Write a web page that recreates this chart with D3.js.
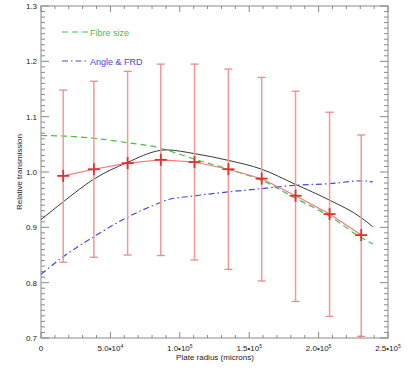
<!DOCTYPE html>
<html>
<head>
<meta charset="UTF-8">
<script src="https://cdn.jsdelivr.net/npm/d3@7"></script>
<style>
body{
    margin:0;
    background:#fff;
}
text{
    font-family: "Liberation Sans", Helvetica, Arial, sans-serif;
}
</style>
</head>
<body>
<script>
var width = 409;
var height = 381;

// measured points (plate radius in microns)
var radius = [16000, 38100, 62400, 86300, 110600, 135000, 159000, 183400, 207900, 230700]
var trans = [0.993, 1.005, 1.016, 1.022, 1.018, 1.005, 0.988, 0.957, 0.924, 0.886]
var errHi = [1.148, 1.164, 1.182, 1.195, 1.195, 1.186, 1.171, 1.146, 1.108, 1.067]
var errLo = [0.837, 0.846, 0.850, 0.849, 0.841, 0.824, 0.803, 0.766, 0.739, 0.703]

// model curves, sampled off the plot
var curveX = [0, 16000, 38000, 62000, 86000, 90000, 111000, 135000, 159000, 183000, 208000, 231000, 239000]
var totalY = [0.914, 0.946, 0.987, 1.017, 1.039, 1.040, 1.033, 1.021, 1.005, 0.978, 0.949, 0.917, 0.901]
var fibreY = [1.066, 1.065, 1.061, 1.053, 1.043, 1.040, 1.023, 1.005, 0.985, 0.953, 0.920, 0.881, 0.870]
var angleY = [0.815, 0.847, 0.883, 0.918, 0.945, 0.949, 0.957, 0.964, 0.970, 0.976, 0.979, 0.984, 0.982]

var xTicks = [0, 50000, 100000, 150000, 200000, 250000]
var xTickLabels = [["0", ""], ["5.0\u202210", "4"], ["1.0\u202210", "5"], ["1.5\u202210", "5"], ["2.0\u202210", "5"], ["2.5\u202210", "5"]]
var yTicks = [0.7, 0.8, 0.9, 1.0, 1.1, 1.2, 1.3]
var yTickLabels = ["0.7", "0.8", "0.9", "1.0", "1.1", "1.2", "1.3"]

var legendNames = ["Fibre size", "Angle & FRD"]

var svg = d3.select('body')
    .append('svg')
    .attr('width', width)
    .attr('height', height)

var x = d3.scaleLinear().domain([0, 250000]).range([41, 388])
var y = d3.scaleLinear().domain([0.7, 1.3]).range([338, 6])

var axisCol = "#8a8a8a"

// frame
svg.append("rect")
    .attr("x", x(0))
    .attr("y", y(1.3))
    .attr("width", x(250000) - x(0))
    .attr("height", y(0.7) - y(1.3))
    .attr("fill", "none")
    .attr("stroke", axisCol)
    .attr("stroke-width", 1)

// ticks, drawn inward on all four sides
var xMinor = d3.range(0, 250001, 10000)
xMinor.forEach(function(v){
    let major = v % 50000 == 0
    let len = major ? 6 : 3
    svg.append("line").attr("x1", x(v)).attr("x2", x(v))
        .attr("y1", y(0.7)).attr("y2", y(0.7) - len)
        .attr("stroke", axisCol)
    svg.append("line").attr("x1", x(v)).attr("x2", x(v))
        .attr("y1", y(1.3)).attr("y2", y(1.3) + len)
        .attr("stroke", axisCol)
})
var yMinor = d3.range(70, 131, 1).map(function(d){ return d / 100 })
yMinor.forEach(function(v, i){
    let major = i % 10 == 0
    let len = major ? 8 : 4
    svg.append("line").attr("x1", x(0)).attr("x2", x(0) + len)
        .attr("y1", y(v)).attr("y2", y(v))
        .attr("stroke", axisCol)
    svg.append("line").attr("x1", x(250000)).attr("x2", x(250000) - len)
        .attr("y1", y(v)).attr("y2", y(v))
        .attr("stroke", axisCol)
})

// tick labels
yTicks.forEach(function(v, i){
    svg.append("text")
        .attr("x", x(0) - 4)
        .attr("y", y(v) + 3)
        .attr("text-anchor", "end")
        .attr("font-size", 8)
        .attr("fill", "#222")
        .text(yTickLabels[i])
})
xTicks.forEach(function(v, i){
    let t = svg.append("text")
        .attr("x", x(v))
        .attr("y", 351)
        .attr("text-anchor", "middle")
        .attr("font-size", 8)
        .attr("fill", "#222")
    t.append("tspan").text(xTickLabels[i][0])
    if (xTickLabels[i][1] != "") {
        t.append("tspan")
            .attr("font-size", 5)
            .attr("dy", -3.5)
            .text(xTickLabels[i][1])
    }
})

svg.append("text")
    .attr("x", 215)
    .attr("y", 360)
    .attr("text-anchor", "middle")
    .attr("font-size", 8)
    .attr("fill", "#222")
    .text("Plate radius (microns)")

svg.append("text")
    .attr("transform", "translate(22,172) rotate(-90)")
    .attr("text-anchor", "middle")
    .attr("font-size", 8)
    .attr("fill", "#222")
    .text("Relative transmission")

// model curves
var line = function(ys){
    return d3.line()
        .x(function(d, i){ return x(curveX[i]) })
        .y(function(d){ return y(d) })
        .curve(d3.curveMonotoneX)(ys)
}

svg.append("path").attr("d", line(fibreY))
    .attr("fill", "none").attr("stroke", "#46c046").attr("stroke-width", 1.2)
    .attr("stroke-dasharray", "6,4")
svg.append("path").attr("d", line(angleY))
    .attr("fill", "none").attr("stroke", "#4848e0").attr("stroke-width", 1.2)
    .attr("stroke-dasharray", "6,3,1.5,3")
svg.append("path").attr("d", line(totalY))
    .attr("fill", "none").attr("stroke", "#3a3a3a").attr("stroke-width", 1)

// error bars
radius.forEach(function(r, i){
    let ex = x(r)
    svg.append("line").attr("x1", ex).attr("x2", ex)
        .attr("y1", y(errLo[i])).attr("y2", y(errHi[i]))
        .attr("stroke", "#f09a9a").attr("stroke-width", 1.5)
    ;[errLo[i], errHi[i]].forEach(function(e){
        svg.append("line").attr("x1", ex - 4).attr("x2", ex + 4)
            .attr("y1", y(e)).attr("y2", y(e))
            .attr("stroke", "#ec8a8a").attr("stroke-width", 1.3)
    })
})

// measured line and crosses
svg.append("path")
    .attr("d", d3.line().x(function(d, i){ return x(radius[i]) }).y(function(d){ return y(d) })(trans))
    .attr("fill", "none").attr("stroke", "#f07878").attr("stroke-width", 1.1)

radius.forEach(function(r, i){
    let cx = x(r), cy = y(trans[i])
    svg.append("line").attr("x1", cx - 6).attr("x2", cx + 6).attr("y1", cy).attr("y2", cy)
        .attr("stroke", "#e23030").attr("stroke-width", 1.8)
    svg.append("line").attr("x1", cx).attr("x2", cx).attr("y1", cy - 6).attr("y2", cy + 6)
        .attr("stroke", "#e23030").attr("stroke-width", 1.8)
})

// legend
var legCols = ["#46c046", "#4848e0"]
var legDash = ["6,4", "6,3,1.5,3"]
legendNames.forEach(function(n, i){
    let ly = 32 + i * 29
    svg.append("line").attr("x1", 62).attr("x2", 88).attr("y1", ly).attr("y2", ly)
        .attr("stroke", legCols[i]).attr("stroke-width", 1.2)
        .attr("stroke-dasharray", legDash[i])
    svg.append("text")
        .attr("x", 90)
        .attr("y", ly + 3.5)
        .attr("font-size", 9)
        .attr("fill", legCols[i])
        .text(n)
})
</script>
</body>
</html>
